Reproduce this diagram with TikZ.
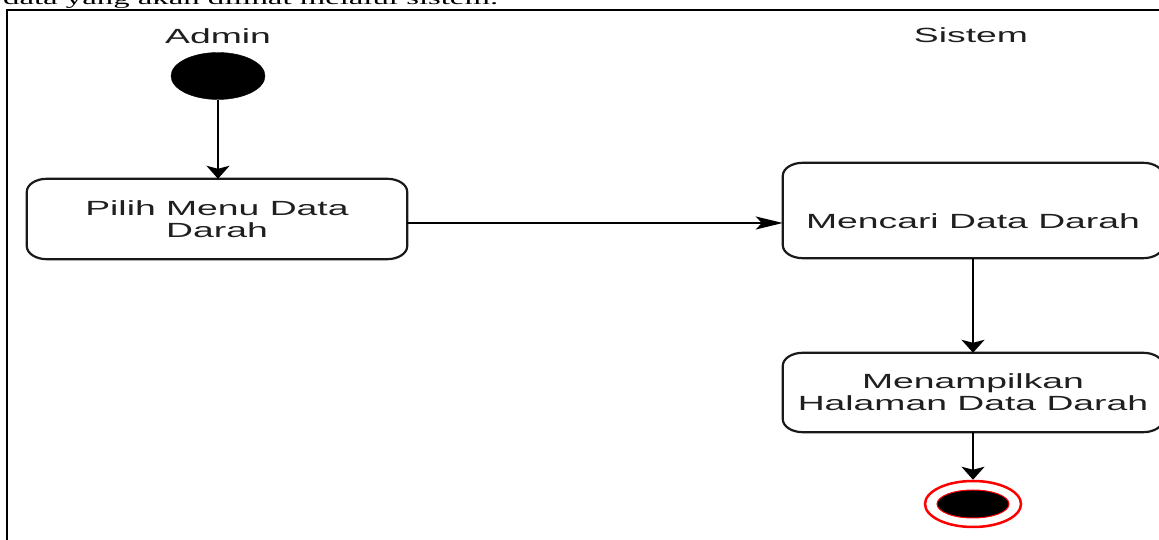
\documentclass[tikz,border=0pt]{standalone}
\usepackage{fontspec}
\usepackage{graphicx}
\newfontfamily\diagfont{Liberation Sans}
\newfontfamily\bodyfont{Liberation Serif}
\usetikzlibrary{arrows.meta,shapes.geometric}

% widened lettering used throughout the diagram
\newcommand\wide[1]{\scalebox{1.82}[1]{#1}}

% activity outline with elliptical corners around a named node
\newcommand\roundbox[1]{%
  \draw[boxline] ([xshift=20pt]#1.north west) -- ([xshift=-20pt]#1.north east)
    arc[start angle=90,end angle=0,x radius=20pt,y radius=13pt]
    -- ([yshift=13pt]#1.south east)
    arc[start angle=0,end angle=-90,x radius=20pt,y radius=13pt]
    -- ([xshift=20pt]#1.south west)
    arc[start angle=270,end angle=180,x radius=20pt,y radius=13pt]
    -- ([yshift=-13pt]#1.north west)
    arc[start angle=180,end angle=90,x radius=20pt,y radius=13pt] -- cycle;}

\begin{document}
\begin{tikzpicture}[x=1pt,y=1pt,
  lbl/.style={font=\diagfont\fontsize{20.5}{22}\selectfont, text=black!88, align=center, inner sep=0pt},
  actbox/.style={rectangle, inner sep=0pt, minimum width=380pt,
    font=\diagfont\fontsize{20.5}{22}\selectfont, text=black!88, align=center},
  boxline/.style={draw=black!90, line width=2.2pt},
  flow/.style={line width=1.9pt, draw=black},
  vtip/.style={-{Stealth[length=13pt,width=23pt,inset=3pt]}},
  htip/.style={-{Stealth[length=27pt,width=13pt,inset=6pt]}},
]
\useasboundingbox (0,0) rectangle (1159,540);
\clip (0,0) rectangle (1159,540);

% surrounding page text and frame
\node[anchor=base west, inner sep=0pt, font=\bodyfont\fontsize{18.2}{20}\selectfont]
  (caption) at (3,535) {\scalebox{1.8}[1]{data yang akan dilihat melalui sistem.}};
\draw[line width=2pt] (7,-20) rectangle (1190,529.5);

% swimlane headings
\node[lbl, anchor=base] (admin) at (218,496) {\wide{Admin}};
\node[lbl, anchor=base] (sistem) at (971,497) {\wide{Sistem}};

% initial state
\node[ellipse, draw=black, fill=black, minimum width=94pt, minimum height=47pt, inner sep=0pt]
  (start) at (218,464) {};

% activities
\node[actbox, minimum height=80pt] (pilih) at (217,321) {\wide{Pilih Menu Data}\\\wide{Darah}};
\node[actbox, minimum height=95pt] (mencari) at (973,329.5) {};
\node[lbl] (mencaritext) at (973,319) {\wide{Mencari Data Darah}};
\node[actbox, minimum height=79pt] (tampil) at (973,147.5) {\wide{Menampilkan}\\\wide{Halaman Data Darah}};
\roundbox{pilih}
\roundbox{mencari}
\roundbox{tampil}

% final state
\node[ellipse, draw=red, line width=2.5pt, fill=white, minimum width=96pt, minimum height=46pt, inner sep=0pt]
  (end) at (973,36) {};
\node[ellipse, draw=red, line width=1pt, fill=black, minimum width=72pt, minimum height=28pt, inner sep=0pt]
  (endcore) at (end.center) {};

% control flow
\draw[flow, vtip] (start.south) -- (start.south |- pilih.north);
\draw[flow, htip] ([yshift=-4pt]pilih.east) -- ([yshift=-4pt]pilih.east -| mencari.west);
\draw[flow, vtip] (mencari.south) -- (tampil.north);
\draw[flow, vtip] (tampil.south) -- (tampil.south |- end.north);
\end{tikzpicture}
\end{document}
